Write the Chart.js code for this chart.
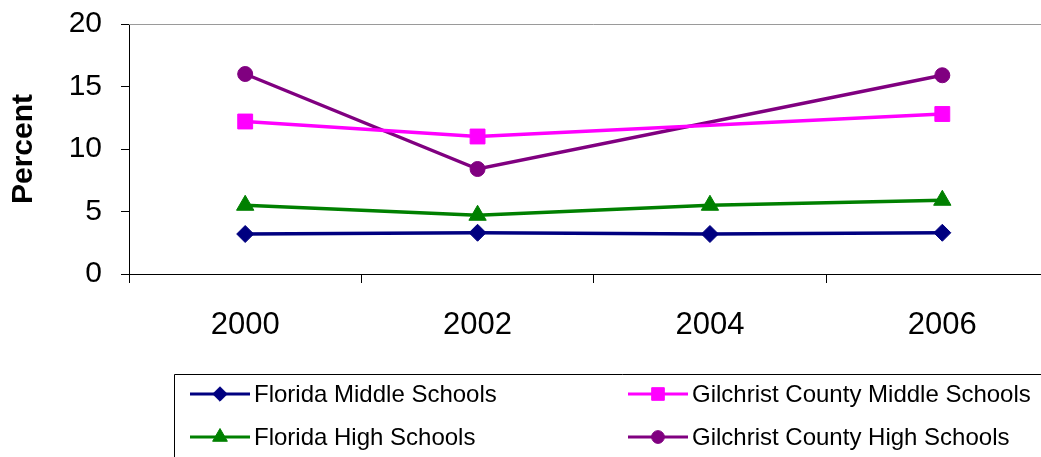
<!DOCTYPE html>
<html>
<head>
<meta charset="utf-8">
<script src="https://cdn.jsdelivr.net/npm/chart.js@4"></script>
<style>
  html, body { margin: 0; padding: 0; overflow: hidden; background: #fff; }
</style>
</head>
<body>
<canvas id="myChart" width="1070" height="457"></canvas>

<script>
    var years = ['2000', '2002', '2004', '2006'];

    // Percent values (no Gilchrist value for 2004)
    var floridaMiddle = [3.2, 3.3, 3.2, 3.3];
    var floridaHigh = [5.5, 4.7, 5.5, 5.9];
    var gilchristMiddle = [12.2, 11.0, null, 12.8];
    var gilchristHigh = [16.0, 8.4, null, 15.9];

    var yTicks = [0, 5, 10, 15, 20];

    var font = "'Liberation Sans', Arial, sans-serif";

    function series(label, values, color, style, radius) {
        return {
            label: label,
            data: values,
            borderColor: color,
            backgroundColor: color,
            borderWidth: 3.5,
            pointStyle: style,
            pointRadius: radius,
            pointHoverRadius: radius,
            pointBorderWidth: 1,
            spanGaps: true,
            tension: 0
        };
    }

    var datasets = [
        series('Florida Middle Schools', floridaMiddle, '#000080', 'rectRot', 8.5),
        series('Gilchrist County Middle Schools', gilchristMiddle, '#ff00ff', 'rect', 10.5),
        series('Florida High Schools', floridaHigh, '#008000', 'triangle', 10),
        series('Gilchrist County High Schools', gilchristHigh, '#800080', 'circle', 7.5)
    ];

    // gray frame line on top of the plot area
    var frameplugin = {
        id: 'frameLine',
        beforeDatasetsDraw: function(chart) {
            var ctx = chart.ctx, a = chart.chartArea;
            ctx.save();
            ctx.strokeStyle = '#9a9a9a';
            ctx.lineWidth = 1;
            ctx.beginPath();
            ctx.moveTo(a.left, Math.round(a.top) + 0.5);
            ctx.lineTo(a.right, Math.round(a.top) + 0.5);
            ctx.stroke();
            ctx.restore();
        }
    };

    // boxed legend, line sample with marker, two columns
    var legendPlugin = {
        id: 'boxLegend',
        afterDraw: function(chart) {
            var ctx = chart.ctx;
            ctx.save();
            ctx.strokeStyle = '#000';
            ctx.lineWidth = 1;
            ctx.beginPath();
            ctx.moveTo(174.5, 460);
            ctx.lineTo(174.5, 374.5);
            ctx.lineTo(1070, 374.5);
            ctx.stroke();

            var cols = [190, 628];
            var rows = [394, 437];
            chart.data.datasets.forEach(function(ds, i) {
                var x = cols[i % 2], y = rows[Math.floor(i / 2)];
                ctx.strokeStyle = ds.borderColor;
                ctx.lineWidth = 3;
                ctx.beginPath();
                ctx.moveTo(x, y);
                ctx.lineTo(x + 60, y);
                ctx.stroke();
                ctx.fillStyle = ds.backgroundColor;
                ctx.lineWidth = 1;
                Chart.helpers.drawPoint(ctx, {
                    pointStyle: ds.pointStyle,
                    rotation: 0,
                    radius: ds.pointRadius * 0.85,
                    borderWidth: 1
                }, x + 30, y);
                ctx.fillStyle = '#000';
                ctx.font = '24px ' + font;
                ctx.textBaseline = 'middle';
                ctx.textAlign = 'left';
                ctx.fillText(ds.label, x + 64, y + 1);
            });
            ctx.restore();
        }
    };

    var ctx = document.getElementById('myChart').getContext('2d');

    var myChart = new Chart(ctx, {
        type: 'line',
        data: { labels: years, datasets: datasets },
        options: {
            responsive: false,
            animation: false,
            layout: { padding: { top: 24, bottom: 83, left: 0, right: 9 } },
            plugins: {
                legend: { display: false },
                tooltip: { enabled: false }
            },
            scales: {
                x: {
                    offset: true,
                    grid: { offset: true, drawOnChartArea: false, tickLength: 9, color: '#000' },
                    border: { color: '#000', width: 1 },
                    ticks: { color: '#000', font: { family: font, size: 31 }, padding: 24 },
                    afterFit: function(s) { s.height = 100; }
                },
                y: {
                    min: 0,
                    max: 20,
                    afterBuildTicks: function(s) { s.ticks = yTicks.map(function(v) { return { value: v }; }); },
                    grid: { drawOnChartArea: false, tickLength: 8, color: '#000' },
                    border: { color: '#000', width: 1 },
                    ticks: { color: '#000', font: { family: font, size: 30 }, padding: 19 },
                    title: {
                        display: true,
                        text: 'Percent',
                        color: '#000',
                        font: { family: font, size: 30, weight: 'bold' },
                        padding: { top: 6, bottom: 0 }
                    },
                    afterFit: function(s) {
                        s.width = 129;
                        s.paddingTop = 0;
                        s.paddingBottom = 0;
                    }
                }
            }
        },
        plugins: [frameplugin, legendPlugin]
    });
</script>
</body>
</html>
